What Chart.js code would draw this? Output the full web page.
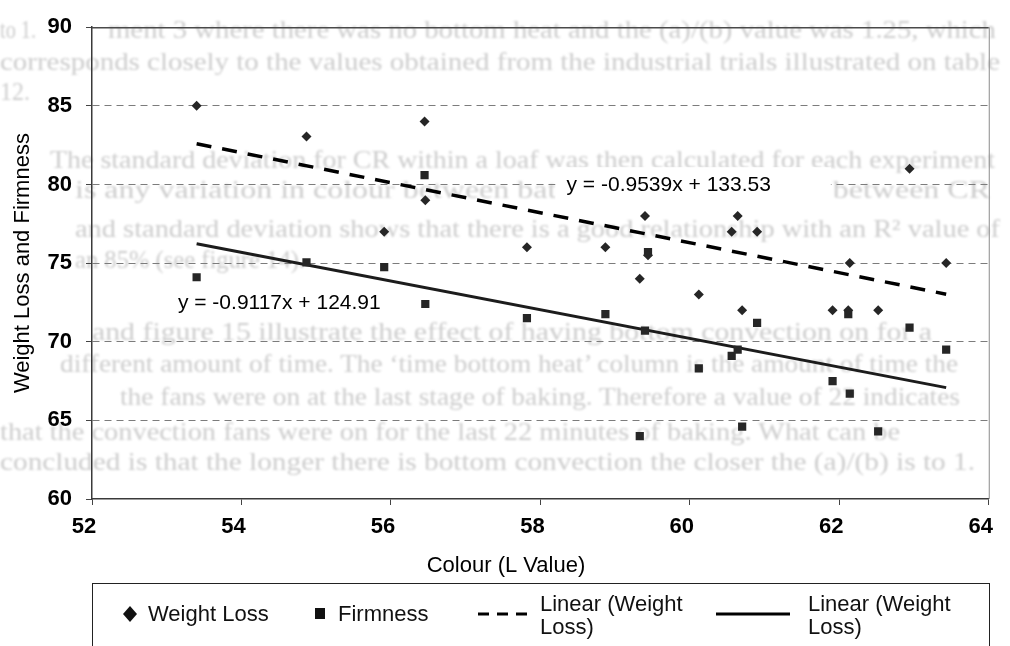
<!DOCTYPE html>
<html>
<head>
<meta charset="utf-8">
<script src="https://cdn.jsdelivr.net/npm/chart.js@4.4.0/dist/chart.umd.min.js"></script>
<style>
  html, body { margin: 0; padding: 0; background: #fff; }
  #wrap { position: relative; width: 1010px; height: 646px; overflow: hidden; }
  #page { position: absolute; left: 0; top: 0; filter: blur(1px); }
  #page text { font-family: "Liberation Serif", "Times New Roman", serif; font-size: 25px; fill: #cdcdcd; }
  #c { position: absolute; left: 0; top: 0; }
</style>
</head>
<body>
<div id="wrap">
  <!-- printed page text lying behind the figure -->
  <svg id="page" width="1010" height="646">
    <text x="0" y="38" textLength="36" lengthAdjust="spacingAndGlyphs">to 1.</text>
    <text x="108" y="38" textLength="888" lengthAdjust="spacingAndGlyphs">ment 3 where there was no bottom heat and the (a)/(b) value was 1.25, which</text>
    <text x="0" y="70" textLength="1000" lengthAdjust="spacingAndGlyphs">corresponds closely to the values obtained from the industrial trials illustrated on table</text>
    <text x="0" y="100" textLength="30" lengthAdjust="spacingAndGlyphs">12.</text>
    <text x="50" y="168" textLength="945" lengthAdjust="spacingAndGlyphs">The standard deviation for CR within a loaf was then calculated for each experiment</text>
    <text x="75" y="198" textLength="915" lengthAdjust="spacingAndGlyphs">is any variation in colour between batches.  The correlation between CR</text>
    <text x="75" y="237" textLength="925" lengthAdjust="spacingAndGlyphs">and standard deviation shows that there is a good relationship with an R² value of</text>
    <text x="75" y="268" textLength="230" lengthAdjust="spacingAndGlyphs">an 85% (see figure 14).</text>
    <text x="92" y="340" textLength="840" lengthAdjust="spacingAndGlyphs">and figure 15 illustrate the effect of having bottom convection on for a</text>
    <text x="60" y="372" textLength="898" lengthAdjust="spacingAndGlyphs">different amount of time.  The ‘time bottom heat’ column is the amount of time the</text>
    <text x="120" y="405" textLength="840" lengthAdjust="spacingAndGlyphs">the fans were on at the last stage of baking.  Therefore a value of 22 indicates</text>
    <text x="0" y="440" textLength="900" lengthAdjust="spacingAndGlyphs">that the convection fans were on for the last 22 minutes of baking.  What can be</text>
    <text x="0" y="470" textLength="975" lengthAdjust="spacingAndGlyphs">concluded is that the longer there is bottom convection the closer the (a)/(b) is to 1.</text>
  </svg>
  <canvas id="c" width="1010" height="646"></canvas>
</div>
<script>
// Colour (L value) of each loaf
const colourL = [53.40, 54.87, 55.91, 56.45, 56.46, 57.82, 58.87, 59.33, 59.40, 59.44,
                 60.12, 60.56, 60.64, 60.70, 60.90, 61.91, 62.12, 62.14, 62.52, 62.94, 63.43];
// Weight loss measured for each loaf
const weightLoss = [85.0, 83.05, 77.0, 84.0, 79.0, 76.0, 76.0, 74.0, 78.0, 75.5,
                    73.0, 77.0, 78.0, 72.0, 77.0, 72.0, 72.0, 75.0, 72.0, 81.0, 75.0];
// Firmness measured for each loaf
const firmness = [74.1, 75.05, 74.75, 80.6, 72.4, 71.5, 71.75, 64.0, 70.7, 75.7,
                  68.3, 69.1, 69.5, 64.6, 71.2, 67.5, 71.75, 66.7, 64.3, 70.9, 69.5];
// Linear trend lines: [slope, intercept]
const weightLossFit = [-0.9539, 133.53];
const firmnessFit = [-0.9117, 124.91];
// Axis ticks and titles
const xTicks = [52, 54, 56, 58, 60, 62, 64];
const yTicks = [60, 65, 70, 75, 80, 85, 90];
const xTitle = 'Colour (L Value)';
const yTitle = 'Weight Loss and Firmness';

const seriesLabels = ['Weight Loss', 'Firmness', 'Linear (Weight Loss)', 'Linear (Weight Loss)'];

const FONT = '"Liberation Sans", Arial, Helvetica, sans-serif';
const fitSpan = [Math.min(...colourL), Math.max(...colourL)];
const fitLine = fit => fitSpan.map(x => ({ x, y: fit[0] * x + fit[1] }));
const eqText = fit => 'y = ' + fit[0].toFixed(4) + 'x + ' + fit[1].toFixed(2);

// Plot frame (top and right edges)
const frame = {
  id: 'frame',
  beforeDatasetsDraw(chart) {
    const { ctx, chartArea: a } = chart;
    ctx.save();
    ctx.strokeStyle = '#4a4a4a';
    ctx.lineWidth = 1.5;
    ctx.beginPath();
    ctx.moveTo(a.left, a.top + 0.5);
    ctx.lineTo(a.right, a.top + 0.5);
    ctx.stroke();
    ctx.strokeStyle = '#8a8a8a';
    ctx.lineWidth = 1;
    ctx.beginPath();
    ctx.moveTo(a.right + 0.5, a.top);
    ctx.lineTo(a.right + 0.5, a.bottom);
    ctx.stroke();
    ctx.restore();
  }
};

// Horizontal axis title, set a little left of the plot centre
const xAxisTitle = {
  id: 'xAxisTitle',
  afterDraw(chart) {
    const { ctx } = chart;
    ctx.save();
    ctx.font = '22px ' + FONT;
    ctx.fillStyle = '#000';
    ctx.textAlign = 'center';
    ctx.textBaseline = 'middle';
    ctx.fillText(xTitle, 506, 566);
    ctx.restore();
  }
};

// Trend line equations
const fitLabels = {
  id: 'fitLabels',
  afterDatasetsDraw(chart, args, opts) {
    const { ctx, scales: { x, y } } = chart;
    ctx.save();
    ctx.font = '21px ' + FONT;
    ctx.textBaseline = 'middle';
    opts.items.forEach(item => {
      const px = x.getPixelForValue(item.at[0]);
      const py = y.getPixelForValue(item.at[1]);
      const w = ctx.measureText(item.text).width;
      ctx.fillStyle = '#fff';
      ctx.fillRect(px - item.pad[0], py - 18, w + item.pad[0] + item.pad[1], 36);
      ctx.fillStyle = '#000';
      ctx.fillText(item.text, px, py);
    });
    ctx.restore();
  }
};

// Boxed legend below the axis title
const boxedLegend = {
  id: 'boxedLegend',
  afterDraw(chart) {
    const { ctx } = chart;
    const ds = chart.data.datasets;
    const cy = 614;
    ctx.save();
    ctx.strokeStyle = '#222';
    ctx.lineWidth = 1;
    ctx.strokeRect(92.5, 583.5, 897, 90);
    ctx.font = '22px ' + FONT;
    ctx.textBaseline = 'middle';
    ctx.fillStyle = '#111';

    // diamond
    ctx.beginPath();
    ctx.moveTo(130, cy - 8);
    ctx.lineTo(137, cy);
    ctx.lineTo(130, cy + 8);
    ctx.lineTo(123, cy);
    ctx.closePath();
    ctx.fill();
    ctx.fillText(ds[0].label, 148, cy + 1);

    // square
    ctx.fillRect(315, cy - 6, 10, 11);
    ctx.fillText(ds[1].label, 338, cy + 1);

    const twoLines = (label, x) => {
      const cut = label.lastIndexOf(' ');
      ctx.fillText(label.slice(0, cut), x, cy - 9);
      ctx.fillText(label.slice(cut + 1), x, cy + 14);
    };

    // dashed sample
    ctx.strokeStyle = '#000';
    ctx.lineWidth = 3;
    ctx.setLineDash([11, 8]);
    ctx.beginPath();
    ctx.moveTo(478, cy);
    ctx.lineTo(530, cy);
    ctx.stroke();
    ctx.setLineDash([]);
    twoLines(ds[2].label, 540);

    // solid sample
    ctx.beginPath();
    ctx.moveTo(716, cy);
    ctx.lineTo(790, cy);
    ctx.stroke();
    twoLines(ds[3].label, 808);
    ctx.restore();
  }
};

const pts = vals => colourL.map((x, i) => ({ x, y: vals[i] }));

new Chart(document.getElementById('c'), {
  type: 'scatter',
  data: {
    datasets: [
      {
        label: seriesLabels[0],
        data: pts(weightLoss),
        pointStyle: 'rectRot',
        pointRadius: 5,
        pointHoverRadius: 5,
        backgroundColor: '#262626',
        borderColor: '#262626',
        borderWidth: 0,
        order: 1
      },
      {
        label: seriesLabels[1],
        data: pts(firmness),
        pointStyle: 'rect',
        pointRadius: 5.8,
        pointHoverRadius: 5.8,
        backgroundColor: '#262626',
        borderColor: '#262626',
        borderWidth: 0,
        order: 2
      },
      {
        type: 'line',
        label: seriesLabels[2],
        data: fitLine(weightLossFit),
        borderColor: '#000',
        borderWidth: 3.5,
        borderDash: [15, 11],
        pointRadius: 0,
        fill: false,
        order: 3
      },
      {
        type: 'line',
        label: seriesLabels[3],
        data: fitLine(firmnessFit),
        borderColor: '#1c1c1c',
        borderWidth: 3,
        pointRadius: 0,
        fill: false,
        order: 4
      }
    ]
  },
  options: {
    responsive: false,
    animation: false,
    events: [],
    layout: { padding: { top: 17, right: 20, bottom: 62, left: 0 } },
    plugins: {
      legend: { display: false },
      tooltip: { enabled: false },
      fitLabels: {
        items: [
          { text: eqText(weightLossFit), at: [58.35, 79.95], pad: [11, 60] },
          { text: eqText(firmnessFit), at: [53.15, 72.45], pad: [8, 8] }
        ]
      }
    },
    scales: {
      x: {
        type: 'linear',
        min: xTicks[0],
        max: xTicks[xTicks.length - 1],
        afterBuildTicks: s => { s.ticks = xTicks.map(v => ({ value: v })); },
        afterFit: s => { s.height = 85; },
        ticks: {
          color: '#000',
          font: { family: FONT, size: 22, weight: 'bold' },
          padding: 9,
          labelOffset: -8,
          maxRotation: 0
        },
        grid: {
          drawOnChartArea: false,
          drawTicks: true,
          tickLength: 6,
          tickColor: '#444',
          color: '#444'
        },
        border: { color: '#3a3a3a', width: 1.5 },
        title: { display: false }
      },
      y: {
        type: 'linear',
        min: yTicks[0],
        max: yTicks[yTicks.length - 1],
        afterBuildTicks: s => { s.ticks = yTicks.map(v => ({ value: v })); },
        afterFit: s => { s.width = 92; },
        ticks: {
          color: '#000',
          font: { family: FONT, size: 22, weight: 'bold' },
          padding: 14
        },
        grid: {
          color: c => (c.tick && (c.tick.value === yTicks[0] || c.tick.value === yTicks[yTicks.length - 1]))
            ? 'rgba(0,0,0,0)' : '#7c7c7c',
          lineWidth: 1,
          tickLength: 6,
          tickColor: '#444'
        },
        border: { color: '#3a3a3a', width: 1.5, dash: [7, 5] },
        title: {
          display: true,
          text: yTitle,
          color: '#000',
          font: { family: FONT, size: 22 },
          padding: { top: 10, bottom: 0 }
        }
      }
    }
  },
  plugins: [frame, fitLabels, xAxisTitle, boxedLegend]
});
</script>
</body>
</html>
